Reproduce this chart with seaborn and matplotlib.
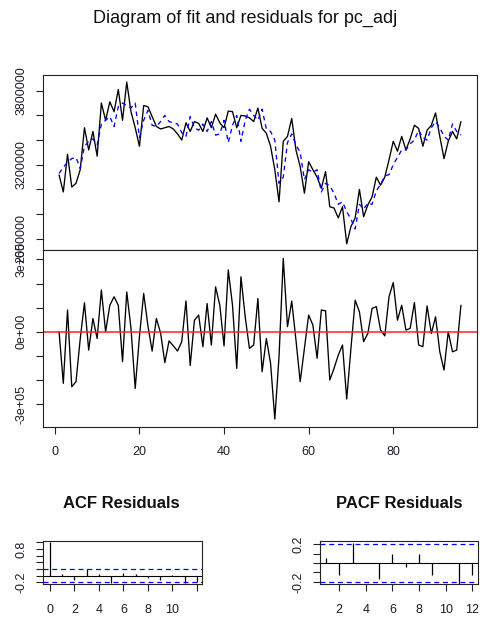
import numpy as np
import pandas as pd
import matplotlib
matplotlib.use("Agg")
import matplotlib.pyplot as plt
import seaborn as sns

# ---------------- data ----------------
time_index = list(range(1, 97))

actual_k = [3117, 2980, 3285, 3020, 3050, 3160, 3500, 3320, 3470, 3270,
            3700, 3560, 3710, 3630, 3810, 3560, 3870, 3630, 3500, 3350,
            3680, 3670, 3590, 3510, 3490, 3500, 3510, 3490, 3450, 3400,
            3540, 3470, 3550, 3535, 3470, 3580, 3500, 3610, 3540, 3500,
            3635, 3630, 3500, 3600, 3595, 3580, 3550, 3660, 3495, 3455,
            3350, 3160, 2900, 3390, 3430, 3575, 3320, 3185, 2970, 3225,
            3160, 3100, 3010, 3145, 2860, 2850, 2770, 2860, 2560, 2700,
            2770, 3000, 2780, 2875, 2940, 3100, 3035, 3100, 3240, 3390,
            3310, 3430, 3320, 3410, 3520, 3495, 3350, 3480, 3520, 3620,
            3430, 3250, 3390, 3470, 3410, 3550]

fitted_k = [3130, 3180, 3220, 3250, 3260, 3170, 3350, 3390, 3410, 3360,
            3530, 3560, 3590, 3510, 3670, 3700, 3680, 3660, 3700, 3420,
            3560, 3640, 3520, 3510, 3550, 3600, 3550, 3540, 3530, 3460,
            3430, 3590, 3500, 3480, 3530, 3470, 3550, 3440, 3450, 3560,
            3380, 3520, 3600, 3390, 3560, 3650, 3600, 3560, 3650, 3490,
            3470, 3400, 3050, 3100, 3380, 3450, 3360, 3300, 3080, 3160,
            3140, 3160, 2980, 3050, 3030, 2970, 2880, 2900, 2820, 2760,
            2680, 2880, 2840, 2890, 2880, 2990, 3040, 3110, 3120, 3200,
            3260, 3320, 3320, 3370, 3400, 3480, 3420, 3400, 3500, 3550,
            3500, 3430, 3400, 3530, 3470, 3440]

resid_k = [0, -214, 90, -228, -207, -30, 120, -76, 55, -28,
           173, 0, 110, 145, 110, -124, 165, 14, -235, -20,
           159, 25, -80, 55, -5, -128, -38, -58, -80, -41,
           128, -140, 48, 69, -62, 117, -55, 186, 110, -59,
           256, 110, -152, 228, 62, -69, -55, 138, -166, -28,
           -131, -362, -103, 304, 21, 127, -34, -207, -69, 69,
           28, -110, 90, 87, -200, -152, -97, -55, -279, -69,
           131, 83, -41, -7, 97, 104, 7, -17, 145, 204,
           48, 110, 7, 14, 121, -55, -62, 107, -7, 62,
           -83, -159, 0, -83, -76, 110]

acf_lags = list(range(0, 13))
acf_vals = [1.0, 0.05, -0.13, 0.19, 0.05, -0.22, 0.07, 0.04, -0.06, -0.14,
            0.01, -0.22, -0.18]

pacf_lags = list(range(1, 13))
pacf_vals = [0.05, -0.13, 0.21, 0.0, -0.166, 0.10, -0.046, 0.09, -0.127,
             0.0, -0.22, -0.127]

ci_level = 0.2

top_yticks = [2600000, 2800000, 3000000, 3200000, 3400000, 3600000, 3800000]
top_ylabels = ["2600000", "", "", "3200000", "", "", "3800000"]
res_yticks = [-300000, -200000, -100000, 0, 100000, 200000, 300000]
res_ylabels = ["-3e+05", "", "", "0e+00", "", "", "3e+05"]
time_xticks = [0, 20, 40, 60, 80]
acf_xticks = [0, 2, 4, 6, 8, 10, 12]
acf_xlabels = ["0", "2", "4", "6", "8", "10", ""]
acf_yticks = [-0.2, 0.0, 0.2, 0.4, 0.6, 0.8, 1.0]
acf_ylabels = ["-0.2", "", "", "", "", "0.8", ""]
pacf_xticks = [2, 4, 6, 8, 10, 12]
pacf_yticks = [-0.2, -0.1, 0.0, 0.1, 0.2]
pacf_ylabels = ["-0.2", "", "", "", "0.2"]

df = pd.DataFrame({"t": time_index,
                   "actual": np.array(actual_k) * 1000,
                   "fitted": np.array(fitted_k) * 1000,
                   "resid": np.array(resid_k) * 1000})

# ---------------- style ----------------
sns.set_style("ticks")
plt.rcParams["font.family"] = ["Liberation Sans", "DejaVu Sans"]
plt.rcParams["axes.linewidth"] = 0.8
plt.rcParams["axes.edgecolor"] = "#222222"

W, H = 481, 623
fig = plt.figure(figsize=(W / 100, H / 100), dpi=100)
fig.patch.set_facecolor("white")

def box(l, t, r, b):
    return [l / W, 1 - b / H, (r - l) / W, (b - t) / H]

ax1 = fig.add_axes(box(43, 75, 477, 250))
ax2 = fig.add_axes(box(43, 250, 477, 427))
ax3 = fig.add_axes(box(43, 540.7, 202, 584.3))
ax4 = fig.add_axes(box(320, 540.7, 478, 584.3))

tick_fs = 9
tick_col = "#1c1c2a"

def style_axis(ax):
    for s in ax.spines.values():
        s.set_visible(True)
        s.set_color("#222222")
        s.set_linewidth(0.8)
    ax.tick_params(axis="both", direction="out", length=5, width=0.8,
                   color="#222222", labelsize=tick_fs, labelcolor=tick_col)
    ax.tick_params(axis="y", pad=6, labelrotation=90)
    ax.tick_params(axis="x", pad=9)
    ax.set_xlabel("")
    ax.set_ylabel("")
    ax.grid(False)
    for lab in ax.get_yticklabels():
        lab.set_va("center")

# ---- top: actual vs fitted ----
sns.lineplot(data=df, x="t", y="actual", ax=ax1, color="black", lw=0.95)
sns.lineplot(data=df, x="t", y="fitted", ax=ax1, color="blue", lw=0.95,
             linestyle=(0, (3.5, 3)))
ax1.set_xlim(-2.8, 99.8)
ax1.set_ylim(2510000, 3927000)
ax1.set_xticks([])
ax1.set_yticks(top_yticks)
ax1.set_yticklabels(top_ylabels)
style_axis(ax1)

# ---- middle: residuals ----
sns.lineplot(data=df, x="t", y="resid", ax=ax2, color="black", lw=0.95)
ax2.axhline(0, color="#ff2020", lw=1.1)
ax2.set_xlim(-2.8, 99.8)
ax2.set_ylim(-395000, 339000)
ax2.set_xticks(time_xticks)
ax2.set_xticklabels([str(v) for v in time_xticks])
ax2.set_yticks(res_yticks)
ax2.set_yticklabels(res_ylabels)
style_axis(ax2)

# ---- ACF ----
ax3.vlines(acf_lags, 0, acf_vals, color="black", lw=0.9)
ax3.axhline(0, color="black", lw=0.8)
ax3.axhline(ci_level, color="blue", lw=0.9, linestyle=(0, (4, 3)))
ax3.axhline(-ci_level, color="blue", lw=0.9, linestyle=(0, (4, 3)))
ax3.set_xlim(-0.57, 12.41)
ax3.set_ylim(-0.257, 1.048)
ax3.set_xticks(acf_xticks)
ax3.set_xticklabels(acf_xlabels)
ax3.set_yticks(acf_yticks)
ax3.set_yticklabels(acf_ylabels)
style_axis(ax3)

# ---- PACF ----
ax4.vlines(pacf_lags, 0, pacf_vals, color="black", lw=0.9)
ax4.axhline(0, color="black", lw=0.8)
ax4.axhline(ci_level, color="blue", lw=0.9, linestyle=(0, (4, 3)))
ax4.axhline(-ci_level, color="blue", lw=0.9, linestyle=(0, (4, 3)))
ax4.set_xlim(0.55, 12.43)
ax4.set_ylim(-0.226, 0.236)
ax4.set_xticks(pacf_xticks)
ax4.set_xticklabels([str(v) for v in pacf_xticks])
ax4.set_yticks(pacf_yticks)
ax4.set_yticklabels(pacf_ylabels)
style_axis(ax4)

# ---- titles ----
fig.text(245 / W, 1 - 18 / H, "Diagram of fit and residuals for pc_adj",
         ha="center", va="center", fontsize=13, color="#111111")
fig.text(121 / W, 1 - 503 / H, "ACF Residuals", ha="center", va="center",
         fontsize=12, fontweight="bold", color="#111111")
fig.text(399 / W, 1 - 503 / H, "PACF Residuals", ha="center", va="center",
         fontsize=12, fontweight="bold", color="#111111")

fig.savefig("out.png", dpi=100, facecolor="white")
